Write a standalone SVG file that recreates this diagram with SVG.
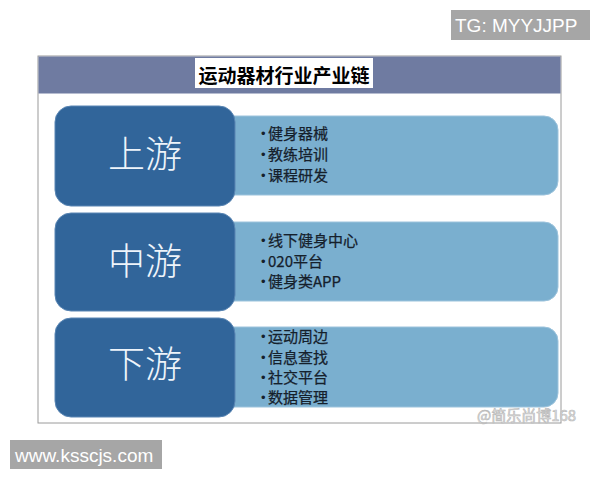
<svg xmlns="http://www.w3.org/2000/svg" width="600" height="480" viewBox="0 0 600 480">
<style>
.tag{fill:#a6a6a6}
.tagt{font-family:"Liberation Sans",Arial,sans-serif;font-size:19px;fill:#ffffff}
.dark{fill:#31659a;stroke:#5a86b4;stroke-width:1}
.light{fill:#7aafcf;stroke:#9cc3dc;stroke-width:1}
.big{font-family:"Noto Sans CJK SC","Noto Sans",sans-serif;font-size:37px;fill:#eef4fa;text-anchor:middle;font-weight:300}
.item{font-family:"Noto Sans CJK SC","Noto Sans",sans-serif;font-size:15px;fill:#15202b;stroke:#15202b;stroke-width:0.25}
.dot{font-family:"Liberation Sans",Arial,sans-serif;font-size:13px;fill:#15202b}
</style>
<rect width="600" height="480" fill="#ffffff"/>
<g id="tg-tag">
<rect class="tag" x="451" y="10" width="139" height="30"/>
<text class="tagt" x="455" y="32">TG: MYYJJPP</text>
</g>
<g id="frame">
<rect x="38" y="56" width="523" height="367" fill="#ffffff" stroke="#9a9a9a" stroke-width="1"/>
<rect x="38.5" y="56.5" width="522" height="37" fill="#6f7ba1"/>
<rect x="195" y="58" width="178" height="30" fill="#ffffff"/>
<text x="284" y="83" text-anchor="middle" font-family="'Noto Sans CJK SC',sans-serif" font-size="19" font-weight="bold" fill="#000000">运动器材行业产业链</text>
</g>
<g id="upstream">
<rect class="light" x="220" y="116" width="338" height="79" rx="14"/>
<rect class="dark" x="55" y="106" width="180" height="100" rx="16"/>
<text class="big" x="145" y="168">上游</text>
<text class="dot" x="261" y="138">•</text><text class="item" x="268" y="139">健身器械</text>
<text class="dot" x="261" y="159">•</text><text class="item" x="268" y="160">教练培训</text>
<text class="dot" x="261" y="180">•</text><text class="item" x="268" y="181">课程研发</text>
</g>
<g id="midstream">
<rect class="light" x="220" y="222" width="338" height="79" rx="14"/>
<rect class="dark" x="55" y="213" width="180" height="98" rx="16"/>
<text class="big" x="145" y="275">中游</text>
<text class="dot" x="261" y="245">•</text><text class="item" x="268" y="246">线下健身中心</text>
<text class="dot" x="261" y="266">•</text><text class="item" x="268" y="267">020平台</text>
<text class="dot" x="261" y="286">•</text><text class="item" x="268" y="287">健身类APP</text>
</g>
<g id="downstream">
<rect class="light" x="220" y="327" width="338" height="80" rx="14"/>
<rect class="dark" x="55" y="318" width="180" height="99" rx="16"/>
<text class="big" x="145" y="378">下游</text>
<text class="dot" x="261" y="341">•</text><text class="item" x="268" y="342">运动周边</text>
<text class="dot" x="261" y="362">•</text><text class="item" x="268" y="363">信息查找</text>
<text class="dot" x="261" y="382">•</text><text class="item" x="268" y="383">社交平台</text>
<text class="dot" x="261" y="402">•</text><text class="item" x="268" y="403">数据管理</text>
</g>
<g id="connectors"></g>
<g id="watermarks">
<text x="477" y="421" font-family="'Noto Sans CJK SC',sans-serif" font-size="15" fill="#e4e4e4" stroke="#b8b8b8" stroke-width="0.6">@简乐尚博168</text>
<rect class="tag" x="10" y="440" width="152" height="29"/>
<text class="tagt" x="15" y="462">www.ksscjs.com</text>
</g>
</svg>
